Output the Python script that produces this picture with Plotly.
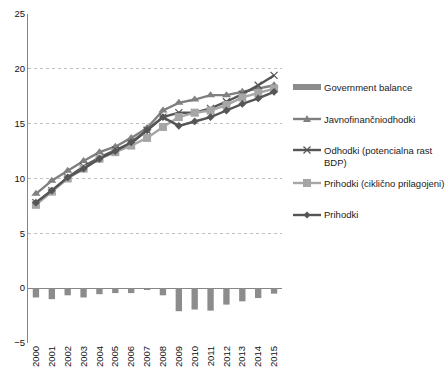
import plotly.graph_objects as go

years = [str(y) for y in range(2000, 2016)]
gov_balance = [-0.85, -1.0, -0.65, -0.85, -0.55, -0.45, -0.45, -0.1, -0.65, -2.1, -1.95, -2.05, -1.5, -1.2, -0.9, -0.5]
javno = [8.6, 9.8, 10.7, 11.6, 12.4, 12.9, 13.7, 14.6, 16.2, 16.9, 17.2, 17.6, 17.6, 17.9, 18.2, 18.5]
odhodki = [7.8, 8.9, 10.1, 11.1, 11.9, 12.6, 13.2, 14.4, 15.6, 16.0, 16.0, 16.4, 17.0, 17.7, 18.5, 19.4]
prihodki_cikl = [7.6, 8.8, 10.0, 10.9, 11.8, 12.4, 13.0, 13.7, 14.7, 15.6, 16.0, 16.2, 16.7, 17.4, 17.8, 18.2]
prihodki = [7.8, 8.9, 10.1, 10.9, 11.8, 12.5, 13.3, 14.4, 15.6, 14.8, 15.2, 15.6, 16.2, 16.8, 17.3, 17.9]
y_ticks = [-5, 0, 5, 10, 15, 20, 25]
series_names = ["Government balance", "Javnofinančniodhodki", "Odhodki (potencialna rast<br>BDP)",
                "Prihodki (ciklično prilagojeni)", "Prihodki"]

FONT = "Liberation Sans, Arial"
W, H = 446, 376
ML, MR, MT, MB = 28, 164, 14, 33
PW, PH = W - ML - MR, H - MT - MB

C_BAR, C_TRI, C_X, C_SQ, C_DI = "#8c8c8c", "#808080", "#555555", "#a6a6a6", "#555555"


def px_x(p):
    return (p - ML) / PW


def px_y(p):
    return 1 - (p - MT) / PH


fig = go.Figure()
fig.add_trace(go.Bar(x=years, y=gov_balance, name=series_names[0],
                     marker=dict(color=C_BAR, line=dict(width=0)), width=0.4))
fig.add_trace(go.Scatter(x=years, y=javno, name=series_names[1], mode="lines+markers",
                         line=dict(color=C_TRI, width=2.4),
                         marker=dict(symbol="triangle-up", size=8, color=C_TRI)))
fig.add_trace(go.Scatter(x=years, y=odhodki, name=series_names[2], mode="lines+markers",
                         line=dict(color=C_X, width=2.4),
                         marker=dict(symbol="x-thin", size=7, color=C_X, line=dict(width=1.2, color=C_X))))
fig.add_trace(go.Scatter(x=years, y=prihodki_cikl, name=series_names[3], mode="lines+markers",
                         line=dict(color=C_SQ, width=2.4),
                         marker=dict(symbol="square", size=8, color=C_SQ)))
fig.add_trace(go.Scatter(x=years, y=prihodki, name=series_names[4], mode="lines+markers",
                         line=dict(color=C_DI, width=2.4),
                         marker=dict(symbol="diamond", size=6, color=C_DI)))

# manual legend (keys as shapes, labels as annotations)
leg_y = [87, 119, 150, 183, 215]
kx0, kx1, kmid, tx = 293, 321, 307, 322
shapes = []
annotations = []
for i, name in enumerate(series_names):
    yc = px_y(leg_y[i])
    if i == 0:
        shapes.append(dict(type="rect", xref="paper", yref="paper", x0=px_x(kx0), x1=px_x(kx1),
                           y0=px_y(leg_y[i] + 3), y1=px_y(leg_y[i] - 3),
                           fillcolor=C_BAR, line=dict(width=0)))
    else:
        col = [None, C_TRI, C_X, C_SQ, C_DI][i]
        shapes.append(dict(type="line", xref="paper", yref="paper", x0=px_x(kx0), x1=px_x(kx1),
                           y0=yc, y1=yc, line=dict(color=col, width=2.4)))
        common = dict(xref="paper", yref="paper", xsizemode="pixel", ysizemode="pixel",
                      xanchor=px_x(kmid), yanchor=yc)
        if i == 1:
            shapes.append(dict(type="path", path="M-4,-3 L4,-3 L0,4 Z", fillcolor=col,
                               line=dict(width=0), **common))
        elif i == 2:
            shapes.append(dict(type="path", path="M-3.5,-3.5 L3.5,3.5 M-3.5,3.5 L3.5,-3.5",
                               line=dict(color=col, width=1.2), **common))
        elif i == 3:
            shapes.append(dict(type="rect", x0=-4, x1=4, y0=-4, y1=4, fillcolor=col,
                               line=dict(width=0), **common))
        elif i == 4:
            shapes.append(dict(type="path", path="M0,-3.5 L3.5,0 L0,3.5 L-3.5,0 Z", fillcolor=col,
                               line=dict(width=0), **common))
    if "<br>" in name:
        annotations.append(dict(xref="paper", yref="paper", x=px_x(tx), y=px_y(leg_y[i] - 7),
                                xanchor="left", yanchor="top", align="left", showarrow=False,
                                text=name, font=dict(size=9.5, family=FONT, color="#1a1a1a")))
    else:
        annotations.append(dict(xref="paper", yref="paper", x=px_x(tx), y=yc,
                                xanchor="left", yanchor="middle", align="left", showarrow=False,
                                text=name, font=dict(size=9.5, family=FONT, color="#1a1a1a")))

fig.update_layout(
    width=W, height=H,
    margin=dict(l=ML, r=MR, t=MT, b=MB),
    paper_bgcolor="white", plot_bgcolor="white",
    font=dict(family=FONT, size=9.5, color="#111111"),
    showlegend=False,
    bargap=0.6,
    shapes=shapes,
    annotations=annotations,
)
fig.update_xaxes(type="category", range=[-0.5, len(years) - 0.5], tickangle=-90,
                 showline=False, showgrid=False,
                 ticks="", tickfont=dict(size=9.5, family=FONT), automargin=False)
fig.update_yaxes(range=[-5, 25], tickvals=y_ticks, showline=True, linecolor="#868686", linewidth=1,
                 showgrid=True, gridcolor="#c0c0c0", griddash="dot", gridwidth=1,
                 zeroline=True, zerolinecolor="#868686", zerolinewidth=1,
                 ticks="", tickfont=dict(size=9.5, family=FONT), automargin=False)

fig.write_html("out.html")
